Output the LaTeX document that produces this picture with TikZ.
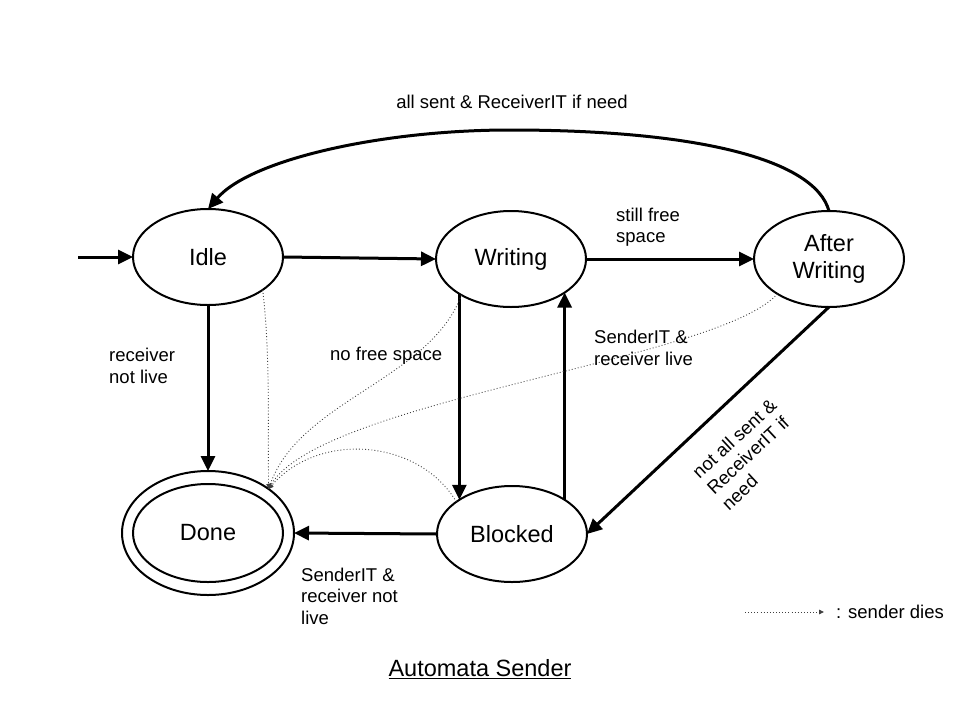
\documentclass[tikz,border=0pt]{standalone}
\usepackage{fontspec}
\setmainfont{Liberation Sans}
\usetikzlibrary{arrows.meta,shapes.geometric,calc}
\begin{document}
\begin{tikzpicture}[x=1pt,y=-1pt,
  state/.style={ellipse,draw,line width=2pt,minimum width=150pt,minimum height=96pt,inner sep=0pt,outer sep=0pt,font=\fontsize{23.5}{27}\selectfont,align=center},
  trans/.style={line width=3pt,-{Triangle[length=15pt,width=14pt]}},
  dies/.style={line width=0.9pt,black!75,dash pattern=on 0.9pt off 2.2pt,-{Triangle[length=5pt,width=4.5pt]}},
  lbl/.style={font=\fontsize{18.5}{21.5}\selectfont,align=left,inner sep=0pt}]
\fill[white] (0,0) rectangle (960,720);
\useasboundingbox (0,0) rectangle (960,720);

\node[state] (idle) at (208,257) {Idle};
\node[state] (writing) at (511,259) {Writing};
\node[state] (aw) at (829,259) {After\\Writing};
\node[state] (blocked) at (512,534) {Blocked};
\node[state,minimum width=172pt,minimum height=124pt] (done) at (208,533) {};
\node[state,minimum width=150pt,minimum height=98pt] (donein) at (208,533) {Done};

\coordinate (start) at (78,257);
\coordinate (arctop) at (510,130);
\draw[trans] (start) -- (idle.west);
\draw[trans] (idle.east) -- (writing.west);
\draw[trans] (writing.east) -- (aw.west);
\draw[trans] (idle.south) -- (done.north);
\draw[trans] (writing.214) -- (writing.214 |- blocked.147);
\draw[trans] (blocked.33) -- (blocked.33 |- writing.-32);
\draw[trans] (aw.south) -- (blocked.east);
\draw[trans] (blocked.west) -- (done.east);
\draw[trans] (aw.north) .. controls (815,160) and (700,130) .. (arctop) .. controls (380,130) and (250,160) .. (idle.north);

\draw[dies] (idle.-31) .. controls (270,350) and (268,420) .. (done.36);
\draw[dies] (writing.216) .. controls (430,380) and (300,400) .. (done.36);
\draw[dies] (aw.214) .. controls (720,360) and (320,400) .. (done.36);
\draw[dies] (blocked.150) .. controls (420,440) and (320,430) .. (done.36);

\node[lbl] (l1) at (512,102) {all sent \& ReceiverIT if need};
\node[lbl,anchor=west] (l2) at (616,227) {still free\\space};
\node[lbl,anchor=west] (l3) at (109,366) {receiver\\not live};
\node[lbl,anchor=west] (l4) at (330,356) {no free space};
\node[lbl,anchor=west] (l5) at (594,348) {SenderIT \&\\receiver live};
\node[lbl,rotate=43] (l6) at (749,454) {not all sent \&\\ReceiverIT if\\need};
\node[lbl,anchor=west] (l7) at (301,596) {SenderIT \&\\receiver not\\live};

\coordinate (lgA) at (745,612);
\coordinate (lgB) at (824,612);
\draw[dies] (lgA) -- (lgB);
\node[lbl,anchor=west] (lgtext) at (836,612) {: sender dies};

\node[font=\fontsize{23.5}{27}\selectfont,inner sep=0pt] (title) at (480,669) {\underline{Automata Sender}};
\end{tikzpicture}
\end{document}
